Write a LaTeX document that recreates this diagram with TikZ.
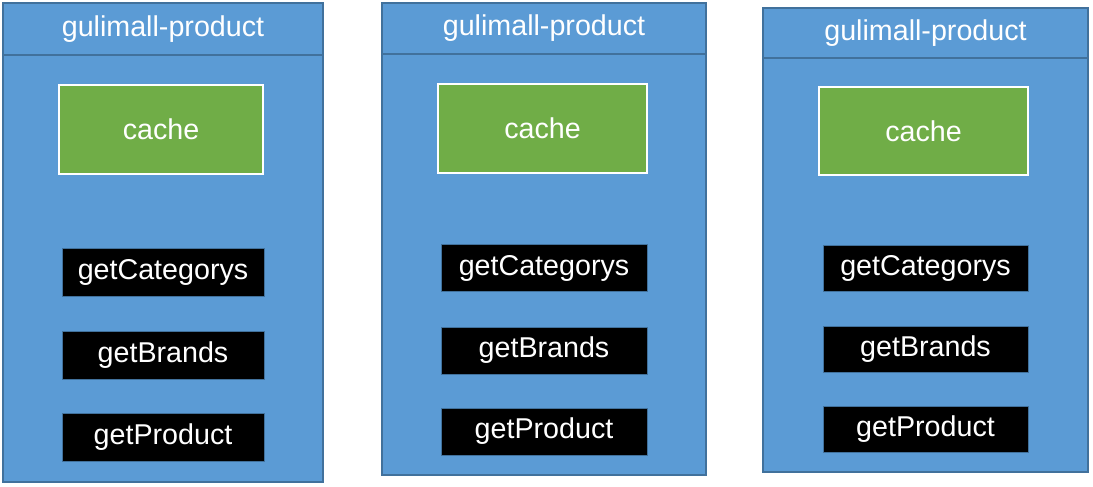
\documentclass[tikz,border=0pt]{standalone}
\usepackage{fontspec}
\setmainfont{Liberation Sans}
\definecolor{panelblue}{HTML}{5B9BD5}
\definecolor{paneledge}{HTML}{41719C}
\definecolor{cachegreen}{HTML}{70AD47}
\tikzset{
  panel/.style={draw=paneledge, fill=panelblue, line width=1pt, inner sep=0pt},
  paneltitle/.style={draw=paneledge, line width=1pt, inner sep=0pt, text=white, font=\fontsize{21.5}{24}\selectfont},
  cachebox/.style={draw=white, fill=cachegreen, line width=1.5pt, inner sep=0pt, text=white, font=\fontsize{21.5}{24}\selectfont},
  apibox/.style={draw=paneledge, fill=black, line width=.4pt, inner sep=0pt, text=white, font=\fontsize{21.5}{24}\selectfont}
}
\begin{document}
\begin{tikzpicture}[x=.75pt,y=-.75pt]
\useasboundingbox (0,0) rectangle (1093,486);
% first instance
\node [panel, minimum width=240pt, minimum height=359.25pt] (p1) at (163,242.5) {};
\node [paneltitle, minimum width=240pt, minimum height=39pt] (t1) at (163,29) {gulimall-product};
\node [cachebox, minimum width=153pt, minimum height=66.75pt] (c1) at (161,129.5) {cache};
\begin{scope}[every node/.append style={apibox, minimum width=151.5pt, minimum height=36pt}]
\node (a1) at (163,272) {getCategorys};
\node (b1) at (163,355) {getBrands};
\node (d1) at (163,437.5) {getProduct};
\end{scope}
% second instance
\node [panel, minimum width=243pt, minimum height=354pt] (p2) at (544,239) {};
\node [paneltitle, minimum width=243pt, minimum height=38.25pt] (t2) at (544,28.5) {gulimall-product};
\node [cachebox, minimum width=156.75pt, minimum height=66.75pt] (c2) at (542.5,128.5) {cache};
\begin{scope}[every node/.append style={apibox, minimum width=154.5pt, minimum height=35.25pt}]
\node (a2) at (544,268) {getCategorys};
\node (b2) at (544,350.5) {getBrands};
\node (d2) at (544,431.5) {getProduct};
\end{scope}
% third instance
\node [panel, minimum width=243.75pt, minimum height=348pt] (p3) at (925.5,240) {};
\node [paneltitle, minimum width=243.75pt, minimum height=37.5pt] (t3) at (925.5,33) {gulimall-product};
\node [cachebox, minimum width=156.75pt, minimum height=66pt] (c3) at (923.5,131) {cache};
\begin{scope}[every node/.append style={apibox, minimum width=153.75pt, minimum height=34.5pt}]
\node (a3) at (925.5,268.5) {getCategorys};
\node (b3) at (925.5,349.5) {getBrands};
\node (d3) at (925.5,429.5) {getProduct};
\end{scope}
\end{tikzpicture}
\end{document}
